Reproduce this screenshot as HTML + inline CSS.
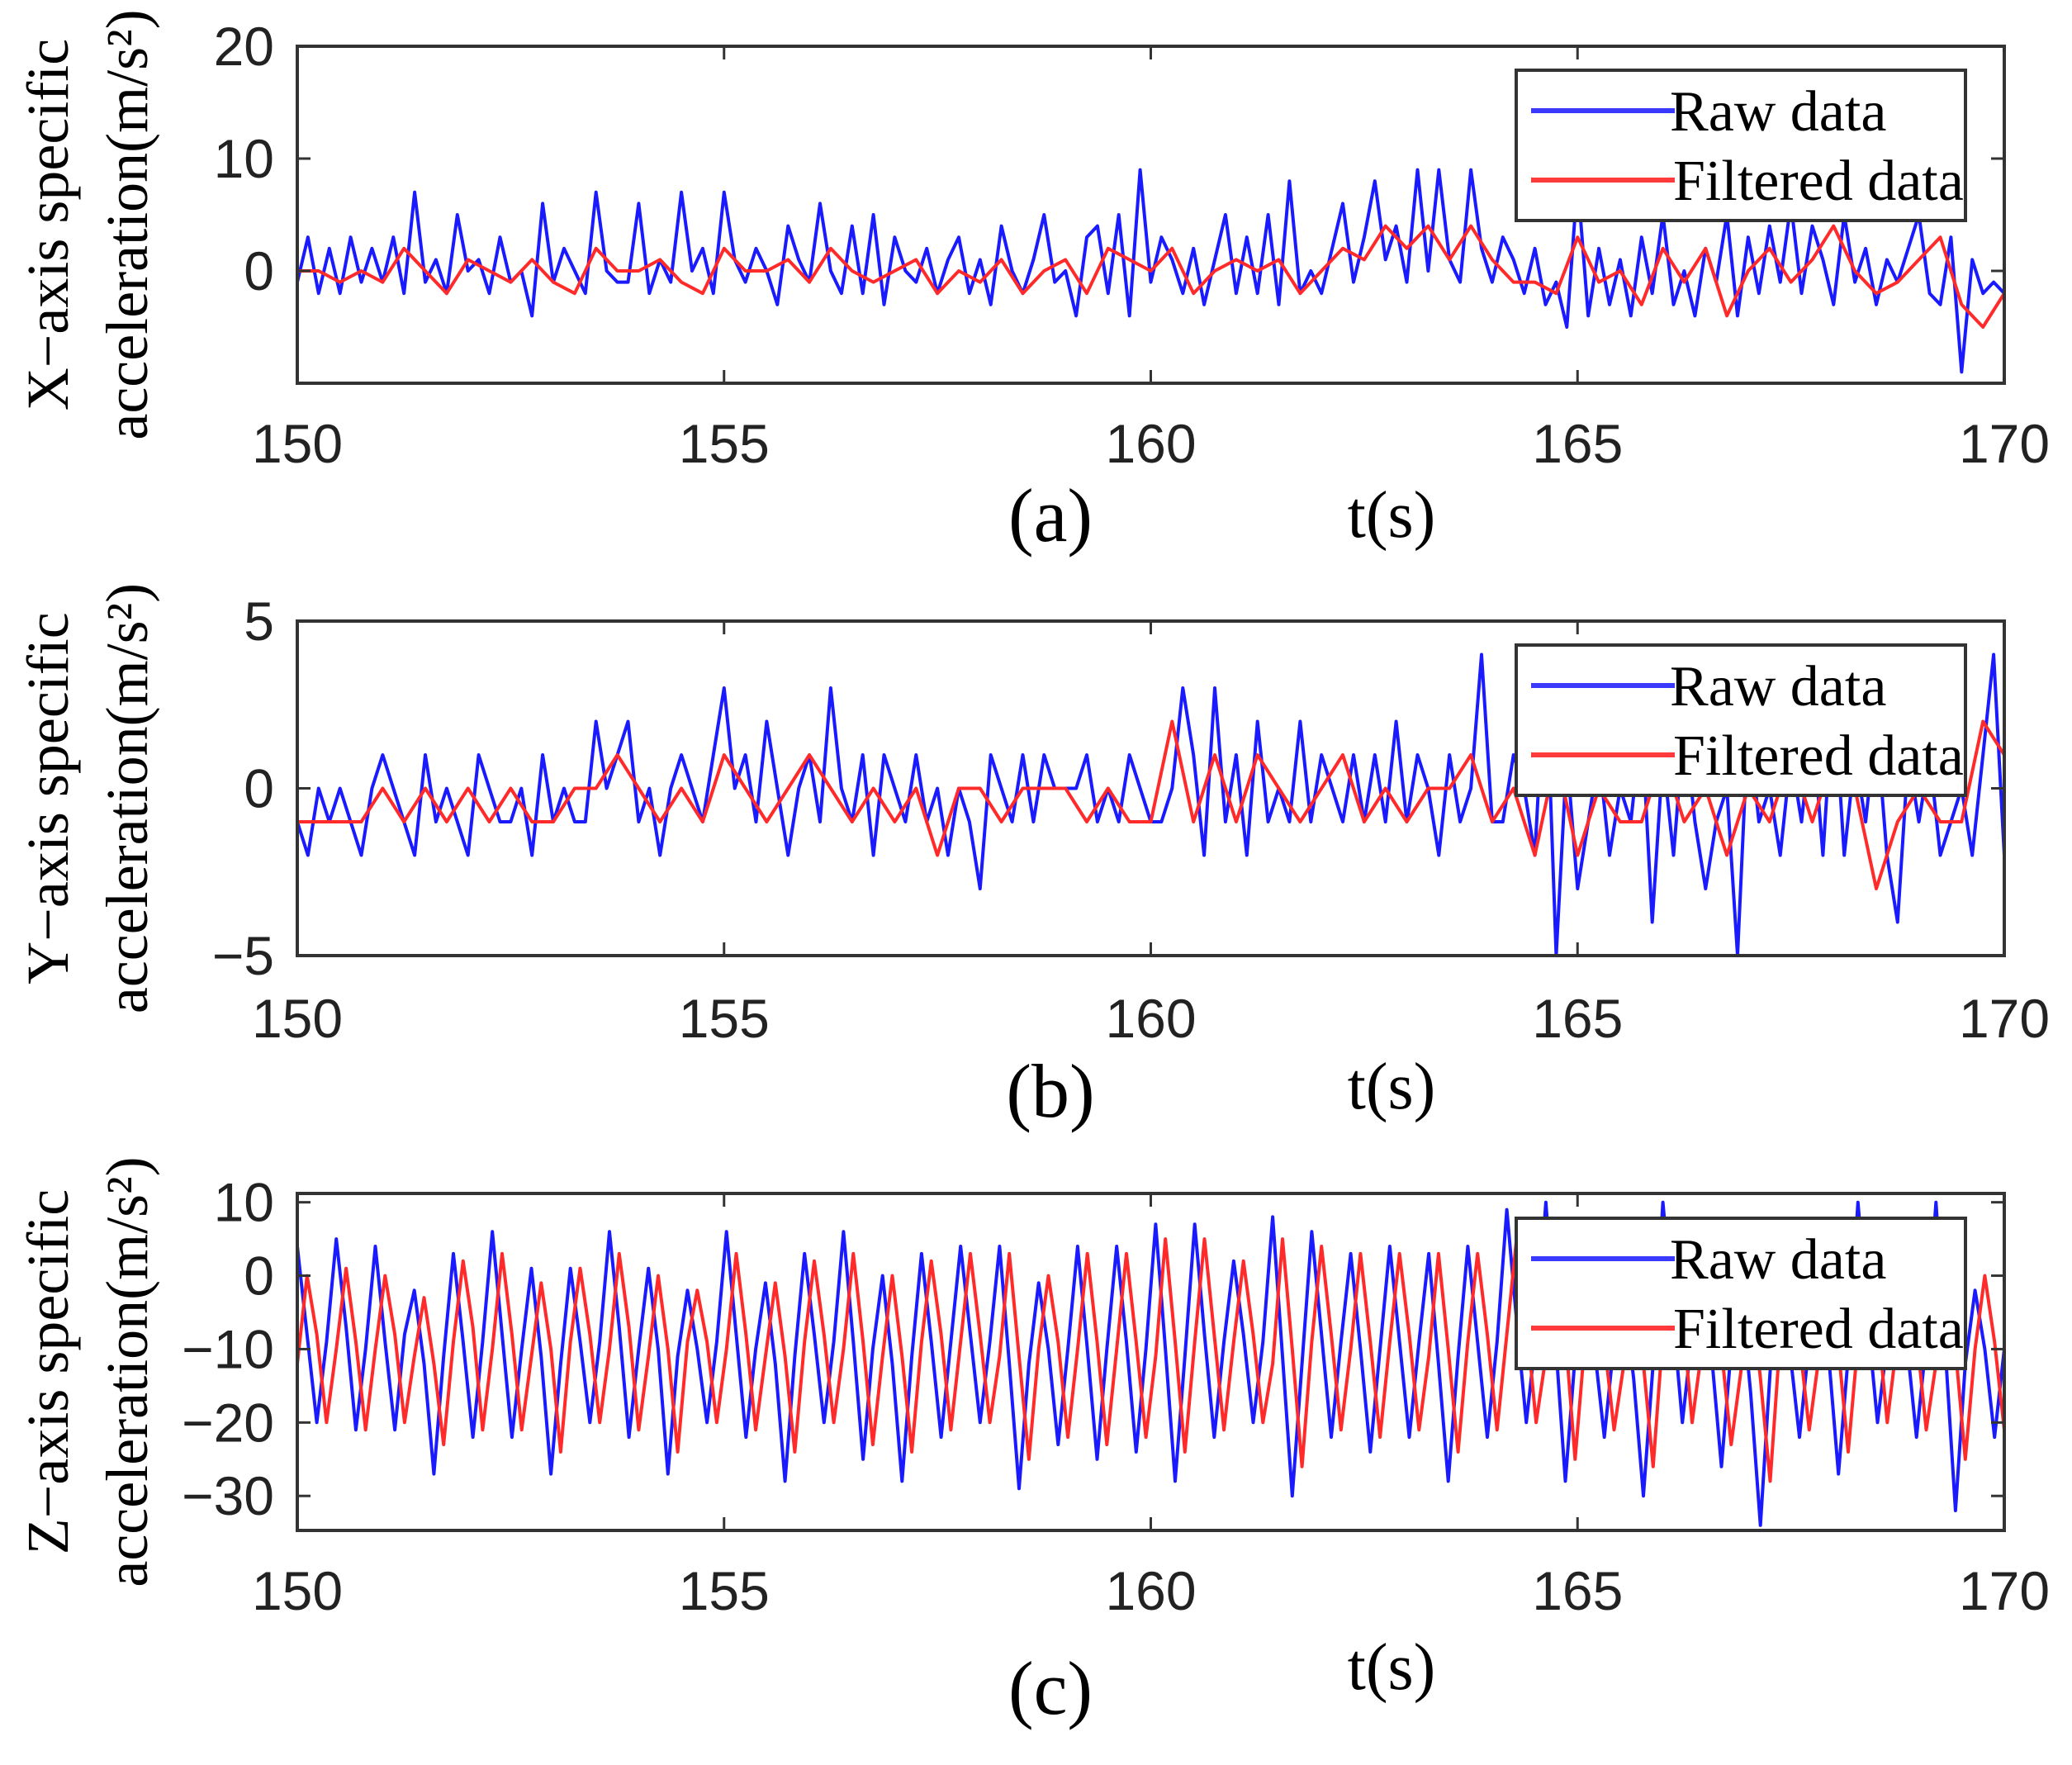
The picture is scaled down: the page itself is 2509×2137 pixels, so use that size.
<!DOCTYPE html>
<html><head><meta charset="utf-8"><style>
html,body{margin:0;padding:0;background:#fff;}
svg{display:block;}
.tick{font-family:"Liberation Sans",sans-serif;font-size:66px;fill:#222;}
.ser{font-family:"Liberation Serif",serif;fill:#000;}
</style></head><body>
<svg id="fig" width="2509" height="2137" viewBox="0 0 2509 2137" xmlns="http://www.w3.org/2000/svg"></svg>
<script>
const xTicks=[150,155,160,165,170];
const xRaw=[-1,3,-2,2,-2,3,-1,2, -1,3,-2,7,-1,1,-2,5, 0,1,-2,3,-1,0,-4,6, -1,2,0,-2,7,0,-1,-1, 6,-2,1,-1,7,0,2,-2, 7,1,-1,2,0,-3,4,1, -1,6,0,-2,4,-2,5,-3, 3,0,-1,2,-2,1,3,-2, 1,-3,4,0,-2,1,5,-1, 0,-4,3,4,-2,5,-4,9, -1,3,1,-2,2,-3,1,5, -2,3,-2,5,-3,8,-2,0, -2,2,6,-1,3,8,1,4, -1,9,0,9,1,-1,9,2, -1,3,1,-2,2,-3,-1,-5, 8,-4,2,-3,1,-4,3,-2, 5,-3,0,-4,2,-1,5,-4, 3,-2,4,-1,6,-2,4,1, -3,5,-1,2,-3,1,-1,2, 5,-2,-3,3,-9,1,-2,-1, -2];
const xFilt=[0,0,-1,0, -1,2,0,-2, 1,0,-1,1, -1,-2,2,0, 0,1,-1,-2, 2,0,0,1, -1,2,0,-1, 0,1,-2,0, -1,1,-2,0, 1,-2,2,1, 0,2,-2,0, 1,0,1,-2, 0,2,1,4, 2,4,1,4, 1,-1,-1,-2, 3,-1,0,-3, 2,-1,2,-4, 0,2,-1,1, 4,0,-2,-1, 1,3,-3,-5, -2];
const yRaw=[-1,-2,0,-1,0,-1,-2,0, 1,0,-1,-2,1,-1,0,-1, -2,1,0,-1,-1,0,-2,1, -1,0,-1,-1,2,0,1,2, -1,0,-2,0,1,0,-1,1, 3,0,1,-1,2,0,-2,0, 1,-1,3,0,-1,1,-2,1, 0,-1,1,-1,0,-2,0,-1, -3,1,0,-1,1,-1,1,0, 0,0,1,-1,0,-1,1,0, -1,-1,0,3,1,-2,3,-1, 1,-2,2,-1,0,-1,2,-1, 1,0,-1,1,-1,1,-1,2, -1,1,0,-2,1,-1,0,4, -1,-1,1,0,-2,4,-5,1, -3,-1,1,-2,0,-1,2,-4, 1,-2,2,-1,-3,-1,0,-5, 2,-1,0,-2,1,-1,2,-2, 3,-2,1,-1,2,-2,-4,1, -1,1,-2,-1,0,-2,1,4, -2];
const yFilt=[-1,-1,-1,-1, 0,-1,0,-1, 0,-1,0,-1, -1,0,0,1, 0,-1,0,-1, 1,0,-1,0, 1,0,-1,0, -1,0,-2,0, 0,-1,0,0, 0,-1,0,-1, -1,2,-1,1, -1,1,0,-1, 0,1,-1,0, -1,0,0,1, -1,0,-2,1, -2,0,-1,-1, 1,-1,0,-2, 0,-1,1,-1, 1,0,-3,-1, 0,-1,-1,2, 1];
const zRaw=[[4,-8,-20,-9],[5,-7,-21,-10],[4,-9,-21,-8],[-2,-12,-27,-11],[3,-9,-22,-9],[6,-8,-22,-10],[1,-11,-27,-12],[1,-9,-20,-9],[6,-7,-22,-10],[1,-10,-27,-11],[-2,-10,-20,-9],[6,-8,-22,-10],[-1,-12,-28,-11],[3,-8,-20,-9],[6,-9,-25,-10],[0,-12,-28,-11],[3,-9,-22,-9],[4,-8,-20,-9],[4,-12,-29,-12],[-1,-10,-23,-10],[4,-10,-25,-10],[4,-9,-24,-10],[7,-10,-28,-11],[7,-8,-22,-9],[2,-8,-20,-9],[8,-11,-30,-12],[6,-8,-22,-9],[3,-10,-24,-10],[4,-9,-22,-9],[3,-12,-28,-11],[4,-9,-22,-9],[9,-6,-20,-8],[10,-9,-28,-11],[1,-10,-22,-9],[-3,-14,-30,-12],[10,-5,-20,-8],[3,-11,-26,-10],[-2,-16,-34,-13],[1,-10,-22,-9],[4,-11,-27,-11],[10,-6,-20,-9],[4,-9,-22,-9],[10,-11,-32,-12],[-2,-10,-22,-10]].flat();
const zFilt=[[-12,0,-8,-20],[-10,1,-9,-21],[-10,0,-8,-20],[-11,-3,-12,-23],[-9,2,-7,-21],[-10,3,-8,-21],[-11,-1,-10,-24],[-9,1,-8,-20],[-10,3,-7,-21],[-11,0,-10,-24],[-9,-2,-9,-20],[-10,3,-8,-21],[-11,-1,-11,-24],[-9,2,-8,-20],[-10,3,-9,-23],[-11,0,-11,-24],[-9,2,-8,-21],[-9,3,-8,-20],[-11,3,-11,-25],[-10,0,-9,-22],[-10,3,-9,-23],[-10,3,-9,-22],[-11,5,-9,-24],[-9,5,-8,-21],[-9,2,-8,-20],[-12,5,-10,-26],[-9,4,-8,-21],[-10,3,-9,-22],[-9,3,-8,-21],[-11,3,-10,-24],[-9,3,-8,-21],[-8,5,-6,-20],[-11,6,-8,-25],[-9,1,-9,-21],[-12,-1,-12,-26],[-8,6,-5,-20],[-10,3,-10,-23],[-13,-1,-14,-28],[-9,1,-9,-21],[-11,3,-10,-24],[-9,5,-6,-20],[-9,3,-8,-21],[-12,5,-10,-25],[-10,0,-9,-21]].flat();
const yTicksA=[20,10,0], yTicksB=[5,0,-5], yTicksC=[10,0,-10,-20,-30];

const NS="http://www.w3.org/2000/svg";
const svg=document.getElementById('fig');
function mk(tag,attrs,parent){const e=document.createElementNS(NS,tag);for(const k in attrs)e.setAttribute(k,attrs[k]);(parent||svg).appendChild(e);return e;}
const L=360,R=2427;
function panel(id,top,bot,ymin,ymax,ticks,raw,filt,ylab1,letter,tickY,letterY,tsY,legTop){
  const g=mk('g',{});
  
  
  const sx=t=>L+(t-150)/20*(R-L);
  const sy=v=>bot-(v-ymin)/(ymax-ymin)*(bot-top);
  const cp=mk('clipPath',{id:'cp'+id},g);mk('rect',{x:L,y:top,width:R-L,height:bot-top},cp);
  const line=(arr,col,name)=>{const n=arr.length;let d='';arr.forEach((v,i)=>{d+=(i?'L':'M')+sx(150+i*20/(n-1)).toFixed(1)+','+sy(v).toFixed(1);});
    const p=mk('path',{d:d,fill:'none',stroke:col,'stroke-width':4,'stroke-linejoin':'round','clip-path':'url(#cp'+id+')'},g);
    
    };
  line(raw,'#1a1aff','raw-data-line');
  line(filt,'#ff2a2a','filtered-data-line');
  const box=mk('rect',{x:L,y:top,width:R-L,height:bot-top,fill:'none',stroke:'#333',"stroke-width":4},g);
  
  
  xTicks.forEach(t=>{const x=sx(t);
    mk('line',{x1:x,y1:top,x2:x,y2:top+16,stroke:'#333','stroke-width':3},g);
    mk('line',{x1:x,y1:bot,x2:x,y2:bot-16,stroke:'#333','stroke-width':3},g);
    const tx=mk('text',{x:x,y:tickY,'text-anchor':'middle',class:'tick'},g);tx.textContent=t;
    
    });
  ticks.forEach(v=>{const y=sy(v);
    mk('line',{x1:L,y1:y,x2:L+16,y2:y,stroke:'#333','stroke-width':3},g);
    mk('line',{x1:R,y1:y,x2:R-16,y2:y,stroke:'#333','stroke-width':3},g);
    const tx=mk('text',{x:332,y:y+23,'text-anchor':'end',class:'tick'},g);tx.textContent=v<0?'\u2212'+(-v):v;
    
    });
  const cy=(top+bot)/2+12;
  const yl=mk('text',{x:0,y:0,'text-anchor':'middle',class:'ser','font-size':72,transform:`translate(82,${cy}) rotate(-90)`},g);
  
  
  const s1=mk('tspan',{x:0,dy:0},yl);s1.textContent=ylab1;
  const s2=mk('tspan',{x:0,dy:96},yl);s2.innerHTML='acceleration(m/s\u00b2)';
  const lt=mk('text',{x:1272,y:letterY,'text-anchor':'middle',class:'ser','font-size':92},g);lt.textContent='('+letter+')';
  
  
  const ts=mk('text',{x:1685,y:tsY,'text-anchor':'middle',class:'ser','font-size':80},g);ts.textContent='t(s)';
  
  
  const lg=mk('g',{},g);
  
  
  mk('rect',{x:1836,y:legTop,width:544,height:182,fill:'#fff',stroke:'#333','stroke-width':4},lg);
  mk('line',{x1:1854,y1:legTop+49,x2:2028,y2:legTop+49,stroke:'#3a3aff','stroke-width':6},lg);
  mk('line',{x1:1854,y1:legTop+133,x2:2028,y2:legTop+133,stroke:'#ff3a3a','stroke-width':6},lg);
  const r=mk('text',{x:2022,y:legTop+73,class:'ser','font-size':70},lg);r.textContent='Raw data';
  
  
  const f=mk('text',{x:2026,y:legTop+157,class:'ser','font-size':70},lg);f.textContent='Filtered data';
  
  
}
panel('a',56,464,-10,20,yTicksA,xRaw,xFilt,'X\u2212axis specific','a',560,655,650,85);
panel('b',752,1157,-5,5,yTicksB,yRaw,yFilt,'Y\u2212axis specific','b',1256,1352,1342,781);
panel('c',1445,1853,-34.7,11.2,yTicksC,zRaw,zFilt,'Z\u2212axis specific','c',1949,2075,2045,1475);
</script>
</body></html>
